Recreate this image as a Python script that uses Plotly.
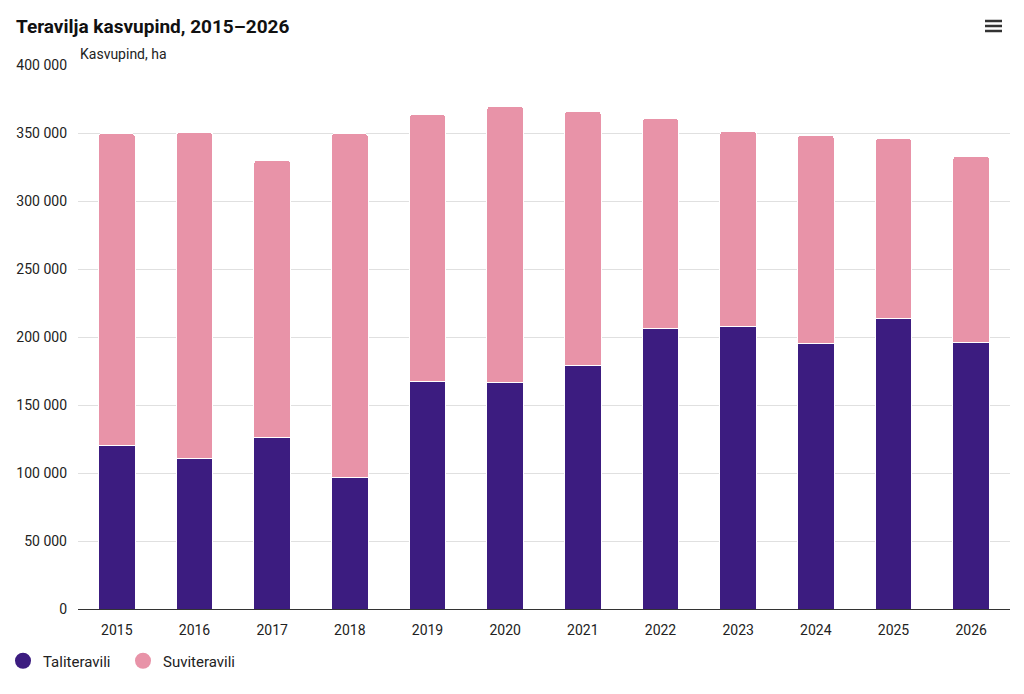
import plotly.graph_objects as go

years = ['2015', '2016', '2017', '2018', '2019', '2020',
         '2021', '2022', '2023', '2024', '2025', '2026']
taliteravili = [120200, 110600, 125800, 96800, 167500, 166800,
                179300, 206600, 207500, 195300, 213700, 196000]
suviteravili = [229200, 239500, 204200, 252600, 195900, 202700,
                186500, 153900, 143600, 153100, 132000, 136700]
y_ticks = [0, 50000, 100000, 150000, 200000, 250000, 300000, 350000, 400000]
y_labels = ['0', '50 000', '100 000', '150 000', '200 000', '250 000',
            '300 000', '350 000', '400 000']

dark = '#3c1c80'
pink = '#e893a8'
W, H = 1024, 694
L, R, T, B = 78, 14, 65, 85

def px_x(px):
    return (px - L) / (W - L - R)

def px_y(py):
    return (H - B - py) / (H - T - B)

fig = go.Figure()
fig.add_trace(go.Bar(x=years, y=taliteravili, name='Taliteravili',
                     marker=dict(color=dark, line=dict(color='#ffffff', width=1)),
                     showlegend=False))
fig.add_trace(go.Bar(x=years, y=suviteravili, name='Suviteravili',
                     marker=dict(color=pink, line=dict(color='#ffffff', width=1)),
                     showlegend=False))

# legend entries drawn as circles like the original
for name, col in [('Taliteravili', dark), ('Suviteravili', pink)]:
    fig.add_trace(go.Scatter(x=[None], y=[None], mode='markers', name=name,
                             marker=dict(color=col, size=16, symbol='circle')))

shapes = []
for py in [21, 26, 31]:
    shapes.append(dict(type='line', xref='paper', yref='paper',
                       x0=px_x(985), x1=px_x(1002), y0=px_y(py), y1=px_y(py),
                       line=dict(color='#333333', width=2.5)))

fig.update_layout(
    width=W, height=H,
    barmode='stack', bargap=0.53, barcornerradius=3,
    paper_bgcolor='white', plot_bgcolor='white',
    font=dict(family='Roboto', size=14, color='#222222'),
    margin=dict(l=L, r=R, t=T, b=B, autoexpand=False),
    separators=', ',
    title=dict(text='<b>Teravilja kasvupind, 2015\u20132026</b>',
               font=dict(family='Roboto', size=19, color='#111111'),
               x=16 / W, xanchor='left', xref='container',
               y=1 - 26 / H, yanchor='middle', yref='container'),
    legend=dict(orientation='h', xref='container', yref='container',
                x=3 / W, y=1 - 661 / H, xanchor='left', yanchor='middle',
                traceorder='normal', entrywidth=75,
                font=dict(size=15, color='#222222'), itemwidth=30,
                tracegroupgap=0),
    xaxis=dict(type='category', showgrid=False, showline=True,
               linecolor='#333333', linewidth=1, ticks='',
               tickfont=dict(size=14, color='#222222'),
               ticklabelstandoff=8, fixedrange=True),
    yaxis=dict(range=[0, 400000], tickvals=y_ticks, ticktext=y_labels,
               showgrid=True, gridcolor='#e0e0e0', gridwidth=1,
               zeroline=False, showline=False,
               tickfont=dict(size=14, color='#222222'),
               ticklabelstandoff=10, fixedrange=True),
    annotations=[dict(text='Kasvupind, ha', xref='paper', yref='paper',
                      x=0, y=px_y(54), xanchor='left', yanchor='middle',
                      showarrow=False, font=dict(size=14, color='#222222'))],
    shapes=shapes,
)

fig.write_html('out.html', config={'displayModeBar': False},
               post_script="document.body.style.margin='0';")
